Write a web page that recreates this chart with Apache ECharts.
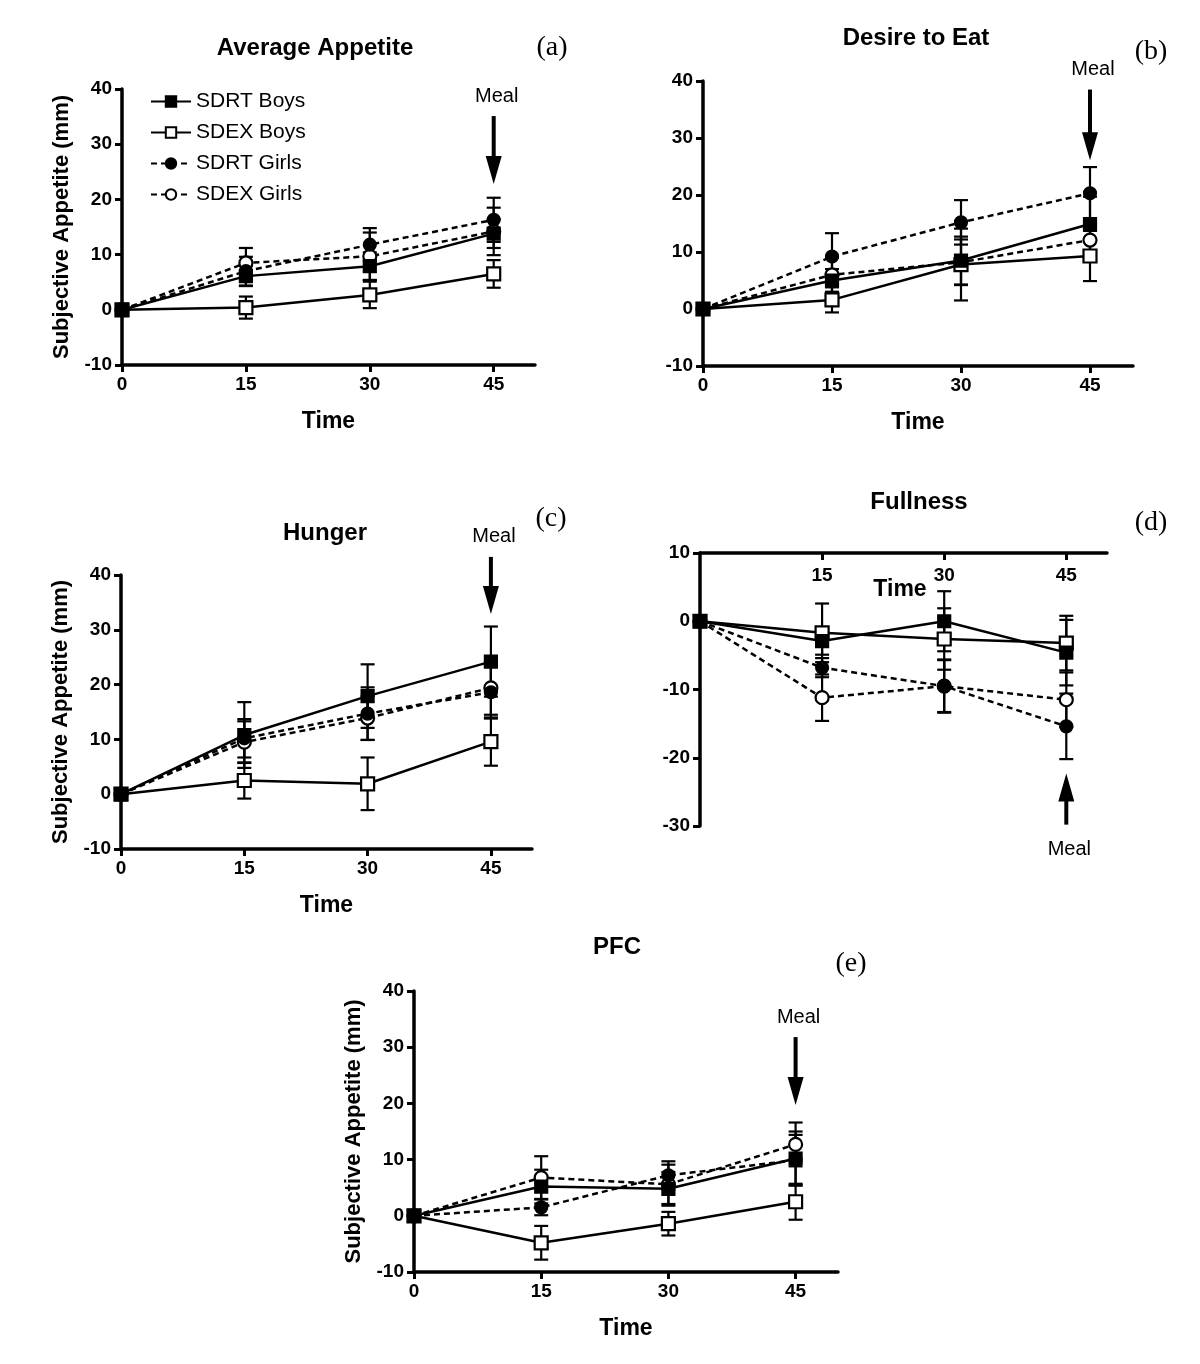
<!DOCTYPE html>
<html>
<head>
<meta charset="utf-8">
<script src="https://cdn.jsdelivr.net/npm/echarts@6/dist/echarts.min.js"></script>
<style>
html,body{margin:0;padding:0;background:#fff;}
#chart{width:1200px;height:1364px;}
</style>
</head>
<body>
<div id="chart"></div>
<script>
// ---------- DATA ----------
const times = [0, 15, 30, 45];
const groups = ['SDRT Boys', 'SDEX Boys', 'SDRT Girls', 'SDEX Girls'];
const panelTitles = ['Average Appetite', 'Desire to Eat', 'Hunger', 'Fullness', 'PFC'];
const panelTags = ['(a)', '(b)', '(c)', '(d)', '(e)'];
const yTicksMain = [-10, 0, 10, 20, 30, 40];
const yTicksFullness = [-30, -20, -10, 0, 10];

// (a) Average Appetite
const avgSdrtBoys = [0, 6.1, 7.9, 13.8];
const avgSdexBoys = [0, 0.4, 2.7, 6.5];
const avgSdrtGirls = [0, 7.0, 11.8, 16.3];
const avgSdexGirls = [0, 8.5, 9.7, 14.2];
const avgSdrtBoysErr = [0, 1.8, 2.5, 2.6];
const avgSdexBoysErr = [0, 2.0, 2.4, 2.5];
const avgSdrtGirlsErr = [0, 2.6, 3.0, 4.0];
const avgSdexGirlsErr = [0, 2.7, 4.3, 4.3];

// (b) Desire to Eat
const desSdrtBoys = [0, 5.0, 8.5, 14.9];
const desSdexBoys = [0, 1.6, 7.8, 9.3];
const desSdrtGirls = [0, 9.2, 15.2, 20.3];
const desSdexGirls = [0, 6.0, 8.2, 12.1];
const desSdrtBoysErr = [0, 2.0, 4.2, 4.8];
const desSdexBoysErr = [0, 2.2, 6.3, 4.4];
const desSdrtGirlsErr = [0, 4.1, 3.9, 4.6];
const desSdexGirlsErr = [0, 3.0, 4.0, 3.5];

// (c) Hunger
const hunSdrtBoys = [0, 10.8, 17.9, 24.2];
const hunSdexBoys = [0, 2.5, 1.9, 9.6];
const hunSdrtGirls = [0, 10.2, 14.7, 18.6];
const hunSdexGirls = [0, 9.5, 13.9, 19.4];
const hunSdrtBoysErr = [0, 6.0, 5.8, 6.4];
const hunSdexBoysErr = [0, 3.3, 4.8, 4.4];
const hunSdrtGirlsErr = [0, 3.5, 4.8, 4.8];
const hunSdexGirlsErr = [0, 3.8, 4.0, 4.9];

// (d) Fullness
const fulSdrtBoys = [0, -2.9, 0, -4.6];
const fulSdexBoys = [0, -1.7, -2.6, -3.2];
const fulSdrtGirls = [0, -6.8, -9.5, -15.4];
const fulSdexGirls = [0, -11.2, -9.5, -11.5];
const fulSdrtBoysErr = [0, 2.0, 4.4, 4.8];
const fulSdexBoysErr = [0, 4.3, 4.5, 4.0];
const fulSdrtGirlsErr = [0, 1.4, 3.8, 4.8];
const fulSdexGirlsErr = [0, 3.4, 3.9, 4.0];

// (e) PFC
const pfcSdrtBoys = [0, 5.2, 4.8, 10.2];
const pfcSdexBoys = [0, -4.8, -1.4, 2.5];
const pfcSdrtGirls = [0, 1.5, 7.2, 9.9];
const pfcSdexGirls = [0, 6.8, 5.6, 12.7];
const pfcSdrtBoysErr = [0, 3.0, 3.0, 4.8];
const pfcSdexBoysErr = [0, 3.0, 2.1, 3.2];
const pfcSdrtGirlsErr = [0, 1.4, 2.5, 4.5];
const pfcSdexGirlsErr = [0, 3.8, 3.5, 3.9];

// "Meal" arrows (time, value where the shaft starts, value of arrow tip)
const mealTime = 45;
const mealArrowStart = [35.1, 38.5, 43.3, -29.8, 31.8];
const mealArrowTip = [22.8, 26.1, 32.9, -22.3, 19.7];

// ---------- BUILD ----------
const panelMeans = [
  [avgSdrtBoys, avgSdexBoys, avgSdrtGirls, avgSdexGirls],
  [desSdrtBoys, desSdexBoys, desSdrtGirls, desSdexGirls],
  [hunSdrtBoys, hunSdexBoys, hunSdrtGirls, hunSdexGirls],
  [fulSdrtBoys, fulSdexBoys, fulSdrtGirls, fulSdexGirls],
  [pfcSdrtBoys, pfcSdexBoys, pfcSdrtGirls, pfcSdexGirls]
];
const panelErrs = [
  [avgSdrtBoysErr, avgSdexBoysErr, avgSdrtGirlsErr, avgSdexGirlsErr],
  [desSdrtBoysErr, desSdexBoysErr, desSdrtGirlsErr, desSdexGirlsErr],
  [hunSdrtBoysErr, hunSdexBoysErr, hunSdrtGirlsErr, hunSdexGirlsErr],
  [fulSdrtBoysErr, fulSdexBoysErr, fulSdrtGirlsErr, fulSdexGirlsErr],
  [pfcSdrtBoysErr, pfcSdexBoysErr, pfcSdrtGirlsErr, pfcSdexGirlsErr]
];

const SANS = "'Liberation Sans', Arial, sans-serif";

const grids = [
  {left: 122, top: 89, width: 413, height: 276},
  {left: 703, top: 81, width: 430, height: 285},
  {left: 121, top: 575, width: 411, height: 274},
  {left: 700, top: 553, width: 407, height: 273},
  {left: 414, top: 991, width: 424, height: 281}
];

const groupStyles = [
  {symbol: 'rect', size: 12, fill: '#000', dash: 'solid', z: 6},
  {symbol: 'rect', size: 13, fill: '#fff', dash: 'solid', z: 5},
  {symbol: 'circle', size: 12, fill: '#000', dash: [6, 4], z: 4},
  {symbol: 'circle', size: 13, fill: '#fff', dash: [6, 4], z: 3}
];

const xAxes = [], yAxes = [], series = [];
grids.forEach((g, i) => {
  const isFull = i === 3;
  const xTickVals = isFull ? times.slice(1) : times;
  xAxes.push({
    gridIndex: i, type: 'value', min: 0, max: 50,
    position: isFull ? 'top' : 'bottom',
    axisLine: {onZero: false, lineStyle: {color: '#000', width: 3.5}},
    axisTick: {show: true, inside: isFull, customValues: xTickVals, length: 7, lineStyle: {color: '#000', width: 3}},
    axisLabel: {show: true, inside: isFull, customValues: xTickVals, fontFamily: SANS, fontWeight: 'bold', fontSize: 19, color: '#000', margin: isFull ? 13 : 10},
    splitLine: {show: false},
    name: isFull ? '' : 'Time', nameLocation: 'middle', nameGap: 45,
    nameTextStyle: {fontFamily: SANS, fontWeight: 'bold', fontSize: 23, color: '#000'}
  });
  const showName = (i === 0 || i === 2 || i === 4);
  yAxes.push({
    gridIndex: i, type: 'value',
    min: isFull ? yTicksFullness[0] : yTicksMain[0],
    max: isFull ? yTicksFullness[yTicksFullness.length - 1] : yTicksMain[yTicksMain.length - 1],
    interval: 10,
    axisLine: {show: true, onZero: false, lineStyle: {color: '#000', width: 3.5}},
    axisTick: {show: true, length: 7, lineStyle: {color: '#000', width: 3}},
    axisLabel: {fontFamily: SANS, fontWeight: 'bold', fontSize: 19, color: '#000', margin: 10},
    splitLine: {show: false},
    name: showName ? 'Subjective Appetite (mm)' : '',
    nameLocation: 'middle', nameGap: 49, nameRotate: 90,
    nameTextStyle: {fontFamily: SANS, fontWeight: 'bold', fontSize: 22, color: '#000'}
  });

  // error bars first (under lines)
  groups.forEach((name, k) => {
    const means = panelMeans[i][k], errs = panelErrs[i][k];
    const d = [];
    times.forEach((t, j) => { if (errs[j] > 0) d.push([t, means[j] - errs[j], means[j] + errs[j]]); });
    series.push({
      type: 'custom', name: name + ' SEM', xAxisIndex: i, yAxisIndex: i, silent: true, z: 2,
      data: d, encode: {x: 0, y: [1, 2]},
      renderItem: (params, api) => {
        const x = api.value(0);
        const lo = api.coord([x, api.value(1)]);
        const hi = api.coord([x, api.value(2)]);
        const hw = 7;
        const st = {stroke: '#000', lineWidth: 2.2};
        return {type: 'group', children: [
          {type: 'line', shape: {x1: lo[0], y1: lo[1], x2: hi[0], y2: hi[1]}, style: st},
          {type: 'line', shape: {x1: lo[0] - hw, y1: lo[1], x2: lo[0] + hw, y2: lo[1]}, style: st},
          {type: 'line', shape: {x1: hi[0] - hw, y1: hi[1], x2: hi[0] + hw, y2: hi[1]}, style: st}
        ]};
      }
    });
  });
  groups.forEach((name, k) => {
    const s = groupStyles[k];
    series.push({
      type: 'line', name: name, xAxisIndex: i, yAxisIndex: i, z: s.z,
      data: times.map((t, j) => [t, panelMeans[i][k][j]]),
      symbol: s.symbol, symbolSize: s.size, showAllSymbol: true,
      lineStyle: {color: '#000', width: 2.5, type: s.dash},
      itemStyle: {color: s.fill, borderColor: '#000', borderWidth: 2.2},
      emphasis: {disabled: true}
    });
  });
});

const titleDefs = [
  {text: panelTitles[0], x: 315, y: 48},
  {text: panelTitles[1], x: 916, y: 38},
  {text: panelTitles[2], x: 325, y: 533},
  {text: panelTitles[3], x: 919, y: 502},
  {text: panelTitles[4], x: 617, y: 947}
];
const tagDefs = [
  {x: 552, y: 48}, {x: 1151, y: 52}, {x: 551, y: 519}, {x: 1151, y: 523}, {x: 851, y: 964}
];
const baseGraphic = [];
titleDefs.forEach(t => baseGraphic.push({
  type: 'text', x: t.x, y: t.y,
  style: {text: t.text, font: "bold 24px 'Liberation Sans', Arial, sans-serif", fill: '#000', align: 'center', verticalAlign: 'middle'}
}));
tagDefs.forEach((t, i) => baseGraphic.push({
  type: 'text', x: t.x, y: t.y,
  style: {text: panelTags[i], font: "28px 'Liberation Serif', 'Times New Roman', serif", fill: '#000', align: 'center', verticalAlign: 'middle'}
}));
baseGraphic.push({
  type: 'text', x: 900, y: 590,
  style: {text: 'Time', font: "bold 23px 'Liberation Sans', Arial, sans-serif", fill: '#000', align: 'center', verticalAlign: 'middle'}
});

const option = {
  animation: false,
  backgroundColor: '#fff',
  grid: grids.map(g => Object.assign({containLabel: false}, g)),
  xAxis: xAxes,
  yAxis: yAxes,
  legend: {
    data: groups, orient: 'vertical', left: 145, top: 86,
    itemWidth: 40, itemHeight: 13, itemGap: 10,
    textStyle: {fontFamily: SANS, fontSize: 21, color: '#000'},
    selectedMode: false
  },
  series: series,
  graphic: baseGraphic
};

const chart = echarts.init(document.getElementById('chart'), null, {renderer: 'canvas'});
chart.setOption(option);

// Meal arrows positioned through each grid's own scales
const arrowGraphic = baseGraphic.slice();
mealArrowStart.forEach((v0, i) => {
  const p0 = chart.convertToPixel({gridIndex: i}, [mealTime, v0]);
  const p1 = chart.convertToPixel({gridIndex: i}, [mealTime, mealArrowTip[i]]);
  const dir = p1[1] > p0[1] ? 1 : -1;
  const headLen = 28, headHalf = 8;
  const base = p1[1] - dir * headLen;
  arrowGraphic.push({type: 'line', shape: {x1: p0[0], y1: p0[1], x2: p0[0], y2: base + dir * 2}, style: {stroke: '#000', lineWidth: 4}});
  arrowGraphic.push({type: 'polygon', shape: {points: [[p1[0], p1[1]], [p1[0] - headHalf, base], [p1[0] + headHalf, base]]}, style: {fill: '#000'}});
  arrowGraphic.push({
    type: 'text', x: p0[0] + 3, y: p0[1] - dir * (dir > 0 ? 20 : 25),
    style: {text: 'Meal', font: "20px 'Liberation Sans', Arial, sans-serif", fill: '#000', align: 'center', verticalAlign: 'middle'}
  });
});
chart.setOption({graphic: arrowGraphic});
</script>
</body>
</html>
